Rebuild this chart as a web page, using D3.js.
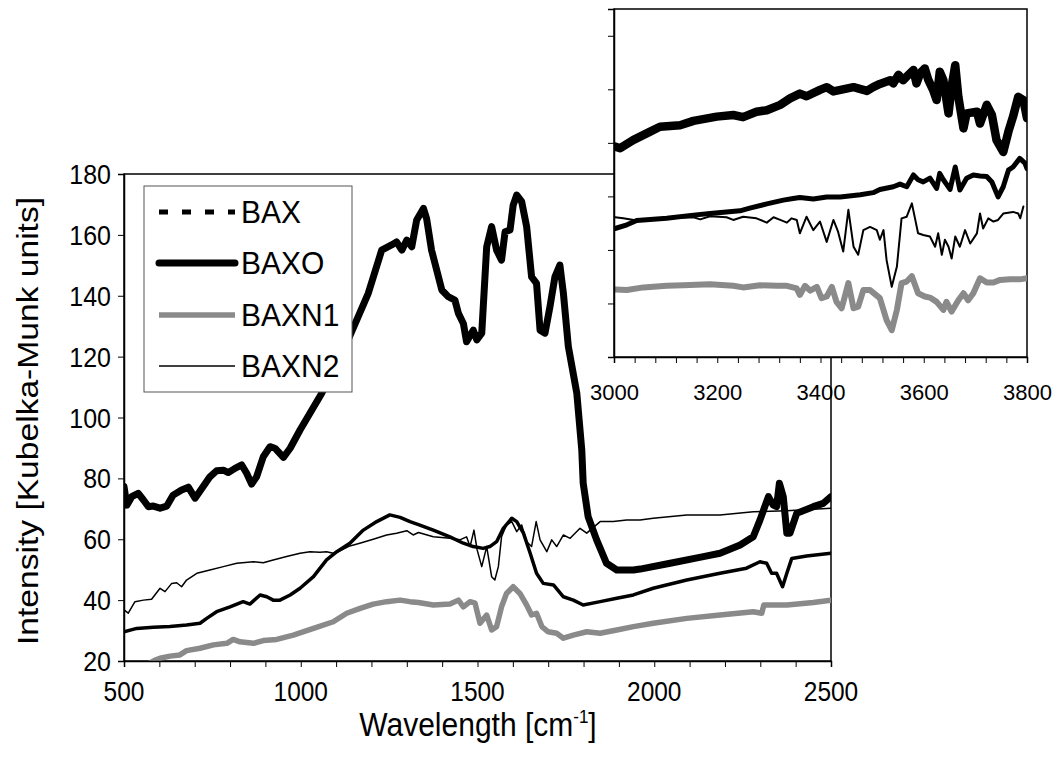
<!DOCTYPE html>
<html>
<head>
<meta charset="utf-8">
<script src="https://cdn.jsdelivr.net/npm/d3@7"></script>
<style>
  body { margin: 0; background: #fff; }
  svg text { font-family: "Liberation Sans", Arial, sans-serif; fill: #000; }
</style>
</head>
<body>
<svg id="chart" width="1055" height="761"></svg>
<script>
// ---- Spectra, 500-2500 cm-1 : [wavenumber, Kubelka-Munk intensity] ----
const baxMain = [[500,29.6],[536,30.7],[583,31.1],[630,31.3],[677,31.8],[715,32.4],[734,34.0],[762,36.2],[800,37.8],[837,39.5],[856,38.7],[885,41.7],[904,41.1],[922,40.0],[941,40.0],[970,41.7],[998,43.9],[1036,47.7],[1073,53.2],[1102,55.9],[1139,58.7],[1177,63.0],[1215,65.8],[1252,68.0],[1281,67.2],[1309,65.8],[1333,64.8],[1375,63.0],[1422,60.8],[1460,58.7],[1488,57.6],[1516,57.0],[1535,57.6],[1554,59.2],[1573,63.6],[1597,66.9],[1611,65.8],[1630,62.0],[1649,55.4],[1667,48.8],[1686,45.5],[1715,45.0],[1743,41.1],[1771,40.0],[1799,38.4],[1847,39.5],[1894,40.6],[1941,41.7],[1997,43.9],[2092,46.6],[2186,48.8],[2261,50.5],[2299,52.6],[2318,52.1],[2332,48.8],[2346,48.8],[2363,44.4],[2375,48.8],[2389,53.7],[2431,54.5],[2500,55.4]];

const baxoMain = [[500,77.3],[508,71.2],[522,74.0],[540,75.1],[555,72.9],[569,70.7],[583,70.9],[602,70.2],[621,70.9],[639,74.5],[663,76.2],[682,77.1],[701,73.5],[724,77.3],[743,80.5],[762,82.5],[781,82.7],[795,81.9],[814,83.3],[833,84.4],[847,81.7],[861,78.1],[875,80.5],[894,87.1],[913,90.4],[927,89.9],[951,86.9],[970,89.9],[998,95.9],[1026,101.4],[1059,107.9],[1134,125.5],[1191,140.8],[1229,155.0],[1257,156.7],[1271,157.7],[1286,155.0],[1300,158.3],[1314,156.1],[1328,164.9],[1347,168.7],[1356,165.4],[1370,155.0],[1399,141.9],[1417,139.7],[1436,138.6],[1446,134.2],[1460,130.9],[1469,124.9],[1488,128.7],[1498,125.5],[1512,127.7],[1526,156.1],[1540,162.7],[1554,155.0],[1568,151.7],[1578,161.0],[1592,161.6],[1601,169.8],[1611,173.1],[1625,170.9],[1639,162.7],[1653,146.2],[1667,144.1],[1677,128.7],[1691,127.7],[1705,136.4],[1719,146.2],[1733,150.1],[1743,140.8],[1757,123.3],[1781,107.9],[1795,89.3],[1799,78.4],[1813,67.4],[1837,59.8],[1865,52.1],[1894,49.9],[1941,49.9],[1960,50.2],[2045,52.1],[2139,54.3],[2186,55.4],[2243,58.1],[2280,60.8],[2299,66.3],[2323,74.0],[2337,71.2],[2346,70.7],[2354,78.4],[2365,74.0],[2375,62.0],[2384,62.0],[2403,68.5],[2450,70.7],[2478,71.8],[2500,74.0]];

const baxn1Main = [[560,18.5],[588,20.3],[602,20.9],[630,21.6],[658,22.0],[677,23.4],[715,24.2],[753,25.3],[791,25.8],[809,27.1],[828,26.3],[866,25.8],[894,26.7],[932,27.1],[979,28.5],[1036,30.7],[1092,32.9],[1130,35.7],[1168,37.3],[1205,38.7],[1243,39.5],[1281,40.0],[1309,39.5],[1333,39.2],[1375,38.4],[1422,38.7],[1446,40.0],[1460,37.8],[1479,39.5],[1493,39.0],[1507,32.4],[1526,35.1],[1540,30.2],[1554,31.3],[1568,37.8],[1582,42.2],[1601,44.4],[1620,42.2],[1639,38.4],[1653,35.1],[1667,35.7],[1682,31.3],[1700,29.6],[1724,29.1],[1743,27.5],[1771,28.5],[1809,29.6],[1847,29.1],[1894,30.2],[1941,31.3],[1997,32.4],[2092,34.0],[2186,35.1],[2280,36.2],[2304,35.7],[2310,38.4],[2375,38.4],[2450,39.2],[2500,40.0]];

const baxn2Main = [[500,36.8],[512,35.7],[531,39.5],[555,40.0],[578,40.3],[602,43.9],[616,42.8],[635,45.5],[649,45.7],[663,44.4],[677,46.6],[706,48.8],[743,49.9],[781,51.0],[819,52.1],[866,52.6],[894,52.3],[922,53.2],[960,54.3],[998,55.4],[1026,55.9],[1054,55.7],[1073,55.9],[1092,55.4],[1111,56.2],[1139,57.8],[1167,58.7],[1205,60.0],[1243,61.4],[1271,62.0],[1300,62.8],[1318,61.4],[1333,62.2],[1375,60.8],[1422,60.3],[1450,59.8],[1469,60.8],[1479,57.6],[1490,63.0],[1499,56.5],[1512,51.0],[1526,57.6],[1540,47.7],[1549,46.6],[1559,51.0],[1568,60.8],[1582,64.7],[1597,65.8],[1611,62.5],[1625,64.7],[1639,59.2],[1653,57.6],[1666,65.8],[1677,59.8],[1696,55.9],[1710,59.8],[1724,57.6],[1743,61.4],[1762,60.3],[1790,63.6],[1809,62.0],[1847,65.8],[1884,65.8],[1922,66.3],[1960,66.3],[1997,66.9],[2092,68.0],[2186,68.0],[2280,69.0],[2375,69.4],[2500,70.2]];

// ---- Spectra, 3000-3800 cm-1 (inset) ----
const baxInset = [[3002,24.0],[3025,24.7],[3044,25.5],[3102,25.9],[3154,26.5],[3186,26.8],[3244,27.3],[3263,27.8],[3296,28.6],[3328,29.3],[3347,29.6],[3360,29.8],[3386,29.5],[3412,29.9],[3438,29.9],[3477,30.3],[3502,30.7],[3515,31.3],[3541,31.8],[3554,32.3],[3567,31.8],[3580,34.0],[3589,33.1],[3599,32.7],[3612,33.4],[3625,31.5],[3631,34.3],[3638,33.1],[3651,31.3],[3661,35.5],[3670,31.2],[3683,33.4],[3696,34.0],[3709,33.8],[3722,33.7],[3732,32.7],[3744,29.9],[3754,31.8],[3764,34.9],[3773,35.5],[3786,37.1],[3796,36.2],[3800,35.2]];

const baxoInset = [[3002,39.3],[3012,39.0],[3037,40.5],[3070,42.1],[3089,43.0],[3128,43.3],[3154,44.1],[3199,44.9],[3231,45.2],[3250,44.8],[3276,45.8],[3296,46.1],[3322,47.1],[3341,48.3],[3360,49.2],[3373,48.7],[3399,49.9],[3412,50.4],[3425,49.6],[3464,50.4],[3490,49.7],[3502,50.4],[3515,51.0],[3535,51.7],[3541,51.1],[3551,52.7],[3560,51.7],[3567,52.4],[3580,53.6],[3586,51.1],[3593,53.0],[3602,53.9],[3609,51.7],[3618,49.9],[3625,48.0],[3631,53.3],[3638,51.7],[3648,45.5],[3654,50.5],[3661,54.5],[3667,48.6],[3677,42.7],[3683,45.5],[3703,45.8],[3709,43.6],[3722,47.1],[3732,45.2],[3741,40.5],[3754,38.3],[3764,42.1],[3773,44.9],[3783,48.6],[3793,48.0],[3800,44.6]];

const baxn1Inset = [[3002,12.6],[3025,12.5],[3057,13.0],[3102,13.3],[3134,13.4],[3186,13.6],[3231,13.3],[3250,13.0],[3283,13.4],[3315,13.3],[3335,13.3],[3354,12.8],[3360,11.6],[3370,13.3],[3380,12.4],[3393,13.1],[3402,11.0],[3412,11.3],[3422,13.1],[3431,10.3],[3441,9.1],[3454,13.8],[3464,9.1],[3473,9.4],[3483,12.5],[3496,12.5],[3515,11.0],[3528,6.9],[3538,5.0],[3548,8.8],[3557,13.8],[3567,14.1],[3577,15.1],[3589,11.9],[3602,11.3],[3612,11.1],[3625,10.3],[3638,8.8],[3644,10.3],[3654,8.5],[3667,10.6],[3677,11.9],[3686,10.6],[3696,11.9],[3709,14.7],[3722,13.9],[3735,13.9],[3748,14.4],[3767,14.5],[3786,14.5],[3800,14.7]];

const baxn2Inset = [[3002,26.1],[3018,25.9],[3044,25.5],[3070,25.6],[3102,25.9],[3154,26.1],[3167,25.7],[3186,26.3],[3218,26.1],[3231,25.6],[3250,26.2],[3276,25.9],[3296,25.1],[3309,26.1],[3322,25.6],[3335,25.1],[3344,25.9],[3354,25.6],[3360,23.1],[3373,26.2],[3386,23.7],[3399,25.3],[3412,21.5],[3425,25.6],[3434,23.4],[3444,19.7],[3454,27.5],[3464,20.6],[3473,19.1],[3483,23.7],[3496,24.3],[3509,23.7],[3515,21.9],[3522,23.7],[3528,18.1],[3538,13.1],[3548,16.9],[3557,25.9],[3567,26.2],[3577,28.7],[3589,23.1],[3599,22.8],[3612,22.5],[3622,20.6],[3628,23.1],[3635,19.1],[3641,21.9],[3648,20.6],[3654,18.4],[3661,22.5],[3670,20.6],[3680,23.7],[3690,21.2],[3703,23.1],[3709,26.8],[3715,24.0],[3725,25.9],[3735,25.3],[3744,25.6],[3754,26.8],[3773,27.1],[3783,26.8],[3787,25.9],[3793,28.1]];

// ---- Axis ticks and labels ----
const mainXTicks = d3.range(500, 2501, 100);
const mainXLabels = [500, 1000, 1500, 2000, 2500];
const mainYTicks = d3.range(20, 181, 20);
const insetXTicks = d3.range(3000, 3801, 40);
const insetXLabels = [3000, 3200, 3400, 3600, 3800];
const insetYTicks = d3.range(0, 61, 10);

const seriesNames = ["BAX", "BAXO", "BAXN1", "BAXN2"];

// ---- Styles ----
const styles = {
  BAX:   { color: "#000", main: 3.5, inset: 5, legendDash: "9,14", legendWidth: 5 },
  BAXO:  { color: "#000", main: 7,   inset: 8.5, legendWidth: 7 },
  BAXN1: { color: "#8a8a8a", main: 5.5, inset: 6, legendWidth: 5.5 },
  BAXN2: { color: "#000", main: 1.5, inset: 2, legendWidth: 1.5 }
};
const FONT = "'Liberation Sans', Arial, sans-serif";
const STRETCH = 1.1;   // main-panel lettering is set slightly tall

const svg = d3.select("#chart");

// ---- Main chart ----
const M = { left: 124, right: 831, top: 174, bottom: 661 };
const x = d3.scaleLinear().domain([500, 2500]).range([M.left, M.right]);
const y = d3.scaleLinear().domain([20, 180]).range([M.bottom, M.top]);

svg.append("clipPath").attr("id", "clipMain")
  .append("rect").attr("x", M.left).attr("y", M.top)
  .attr("width", M.right - M.left).attr("height", M.bottom - M.top);

svg.append("rect")
  .attr("x", M.left).attr("y", M.top)
  .attr("width", M.right - M.left).attr("height", M.bottom - M.top)
  .attr("fill", "#fff").attr("stroke", "#000").attr("stroke-width", 1.5);

const lineMain = d3.line().x(d => x(d[0])).y(d => y(d[1]));
const mainData = { BAX: baxMain, BAXO: baxoMain, BAXN1: baxn1Main, BAXN2: baxn2Main };
const gMain = svg.append("g").attr("clip-path", "url(#clipMain)");
["BAXN1", "BAXN2", "BAX", "BAXO"].forEach(k => {
  gMain.append("path").datum(mainData[k])
    .attr("d", lineMain).attr("fill", "none")
    .attr("stroke", styles[k].color).attr("stroke-width", styles[k].main)
    .attr("stroke-linejoin", "round").attr("stroke-linecap", "round");
});

const xAxis = d3.axisBottom(x).tickValues(mainXTicks).tickSize(6).tickFormat("");
const gx = svg.append("g").attr("transform", `translate(0,${M.bottom})`).call(xAxis);
const yAxis = d3.axisLeft(y).tickValues(mainYTicks).tickSize(6).tickFormat("");
const gy = svg.append("g").attr("transform", `translate(${M.left},0)`).call(yAxis);
[gx, gy].forEach(g => {
  g.select(".domain").attr("stroke", "#000").attr("stroke-width", 1.5);
  g.selectAll(".tick line").attr("stroke", "#000").attr("stroke-width", 1);
});

// Tick labels of the main panel
svg.append("g").selectAll("text").data(mainXLabels).join("text")
  .attr("transform", d => `translate(${x(d)},701) scale(1,${STRETCH})`)
  .attr("text-anchor", "middle").attr("font-size", 24.5).text(d => d);
svg.append("g").selectAll("text").data(mainYTicks).join("text")
  .attr("transform", d => `translate(111,${y(d) + 10}) scale(1,${STRETCH})`)
  .attr("text-anchor", "end").attr("font-size", 25).text(d => d);

// Axis titles
const xt = svg.append("text")
  .attr("transform", "translate(478,736) scale(1,1.08)")
  .attr("text-anchor", "middle").attr("font-size", 30);
xt.append("tspan").text("Wavelength [cm");
xt.append("tspan").attr("font-size", 17).attr("dy", -12).text("-1");
xt.append("tspan").attr("dy", 12).text("]");

svg.append("text")
  .attr("transform", "translate(38,421) rotate(-90) scale(1.12,1)")
  .attr("text-anchor", "middle").attr("font-size", 30)
  .text("Intensity [Kubelka-Munk units]");

// Legend
const L = { x: 144, y: 186, w: 208, h: 206 };
svg.append("rect").attr("x", L.x).attr("y", L.y).attr("width", L.w).attr("height", L.h)
  .attr("fill", "#fff").attr("stroke", "#555").attr("stroke-width", 1);
const legendRows = [212, 263, 315, 366];
seriesNames.forEach((k, i) => {
  const ly = legendRows[i];
  svg.append("line").attr("x1", 159).attr("x2", 235).attr("y1", ly).attr("y2", ly)
    .attr("stroke", styles[k].color).attr("stroke-width", styles[k].legendWidth)
    .attr("stroke-dasharray", styles[k].legendDash || null)
    .attr("stroke-linecap", k === "BAXO" ? "round" : "butt");
  svg.append("text").attr("transform", `translate(241,${ly + 11}) scale(1,1.04)`)
    .attr("font-size", 30).text(k);
});

// ---- Inset chart ----
const I = { left: 614, right: 1027, top: 9, bottom: 357 };
const xi = d3.scaleLinear().domain([3000, 3800]).range([I.left, I.right]);
const yi = d3.scaleLinear().domain([0, 65]).range([I.bottom, I.top]);

svg.append("clipPath").attr("id", "clipInset")
  .append("rect").attr("x", I.left).attr("y", I.top)
  .attr("width", I.right - I.left).attr("height", I.bottom - I.top);

svg.append("rect")
  .attr("x", I.left).attr("y", I.top)
  .attr("width", I.right - I.left).attr("height", I.bottom - I.top)
  .attr("fill", "#fff").attr("stroke", "#000").attr("stroke-width", 1.5);

const lineInset = d3.line().x(d => xi(d[0])).y(d => yi(d[1]));
const insetData = { BAX: baxInset, BAXO: baxoInset, BAXN1: baxn1Inset, BAXN2: baxn2Inset };
const gInset = svg.append("g").attr("clip-path", "url(#clipInset)");
["BAXN1", "BAXN2", "BAX", "BAXO"].forEach(k => {
  gInset.append("path").datum(insetData[k])
    .attr("d", lineInset).attr("fill", "none")
    .attr("stroke", styles[k].color).attr("stroke-width", styles[k].inset)
    .attr("stroke-linejoin", "round").attr("stroke-linecap", "round");
});

const xiAxis = d3.axisBottom(xi).tickValues(insetXTicks).tickSize(6).tickPadding(21)
  .tickFormat(d => insetXLabels.includes(d) ? d : "");
const gxi = svg.append("g").attr("transform", `translate(0,${I.bottom})`).call(xiAxis);
const yiAxis = d3.axisLeft(yi).tickValues(insetYTicks).tickSize(6).tickFormat("");
const gyi = svg.append("g").attr("transform", `translate(${I.left},0)`).call(yiAxis);
[gxi, gyi].forEach(g => {
  g.select(".domain").attr("stroke", "#000").attr("stroke-width", 1.5);
  g.selectAll(".tick line").attr("stroke", "#000").attr("stroke-width", 1);
  g.selectAll(".tick text").attr("font-size", 22).style("font-family", FONT);
});
</script>
</body>
</html>
